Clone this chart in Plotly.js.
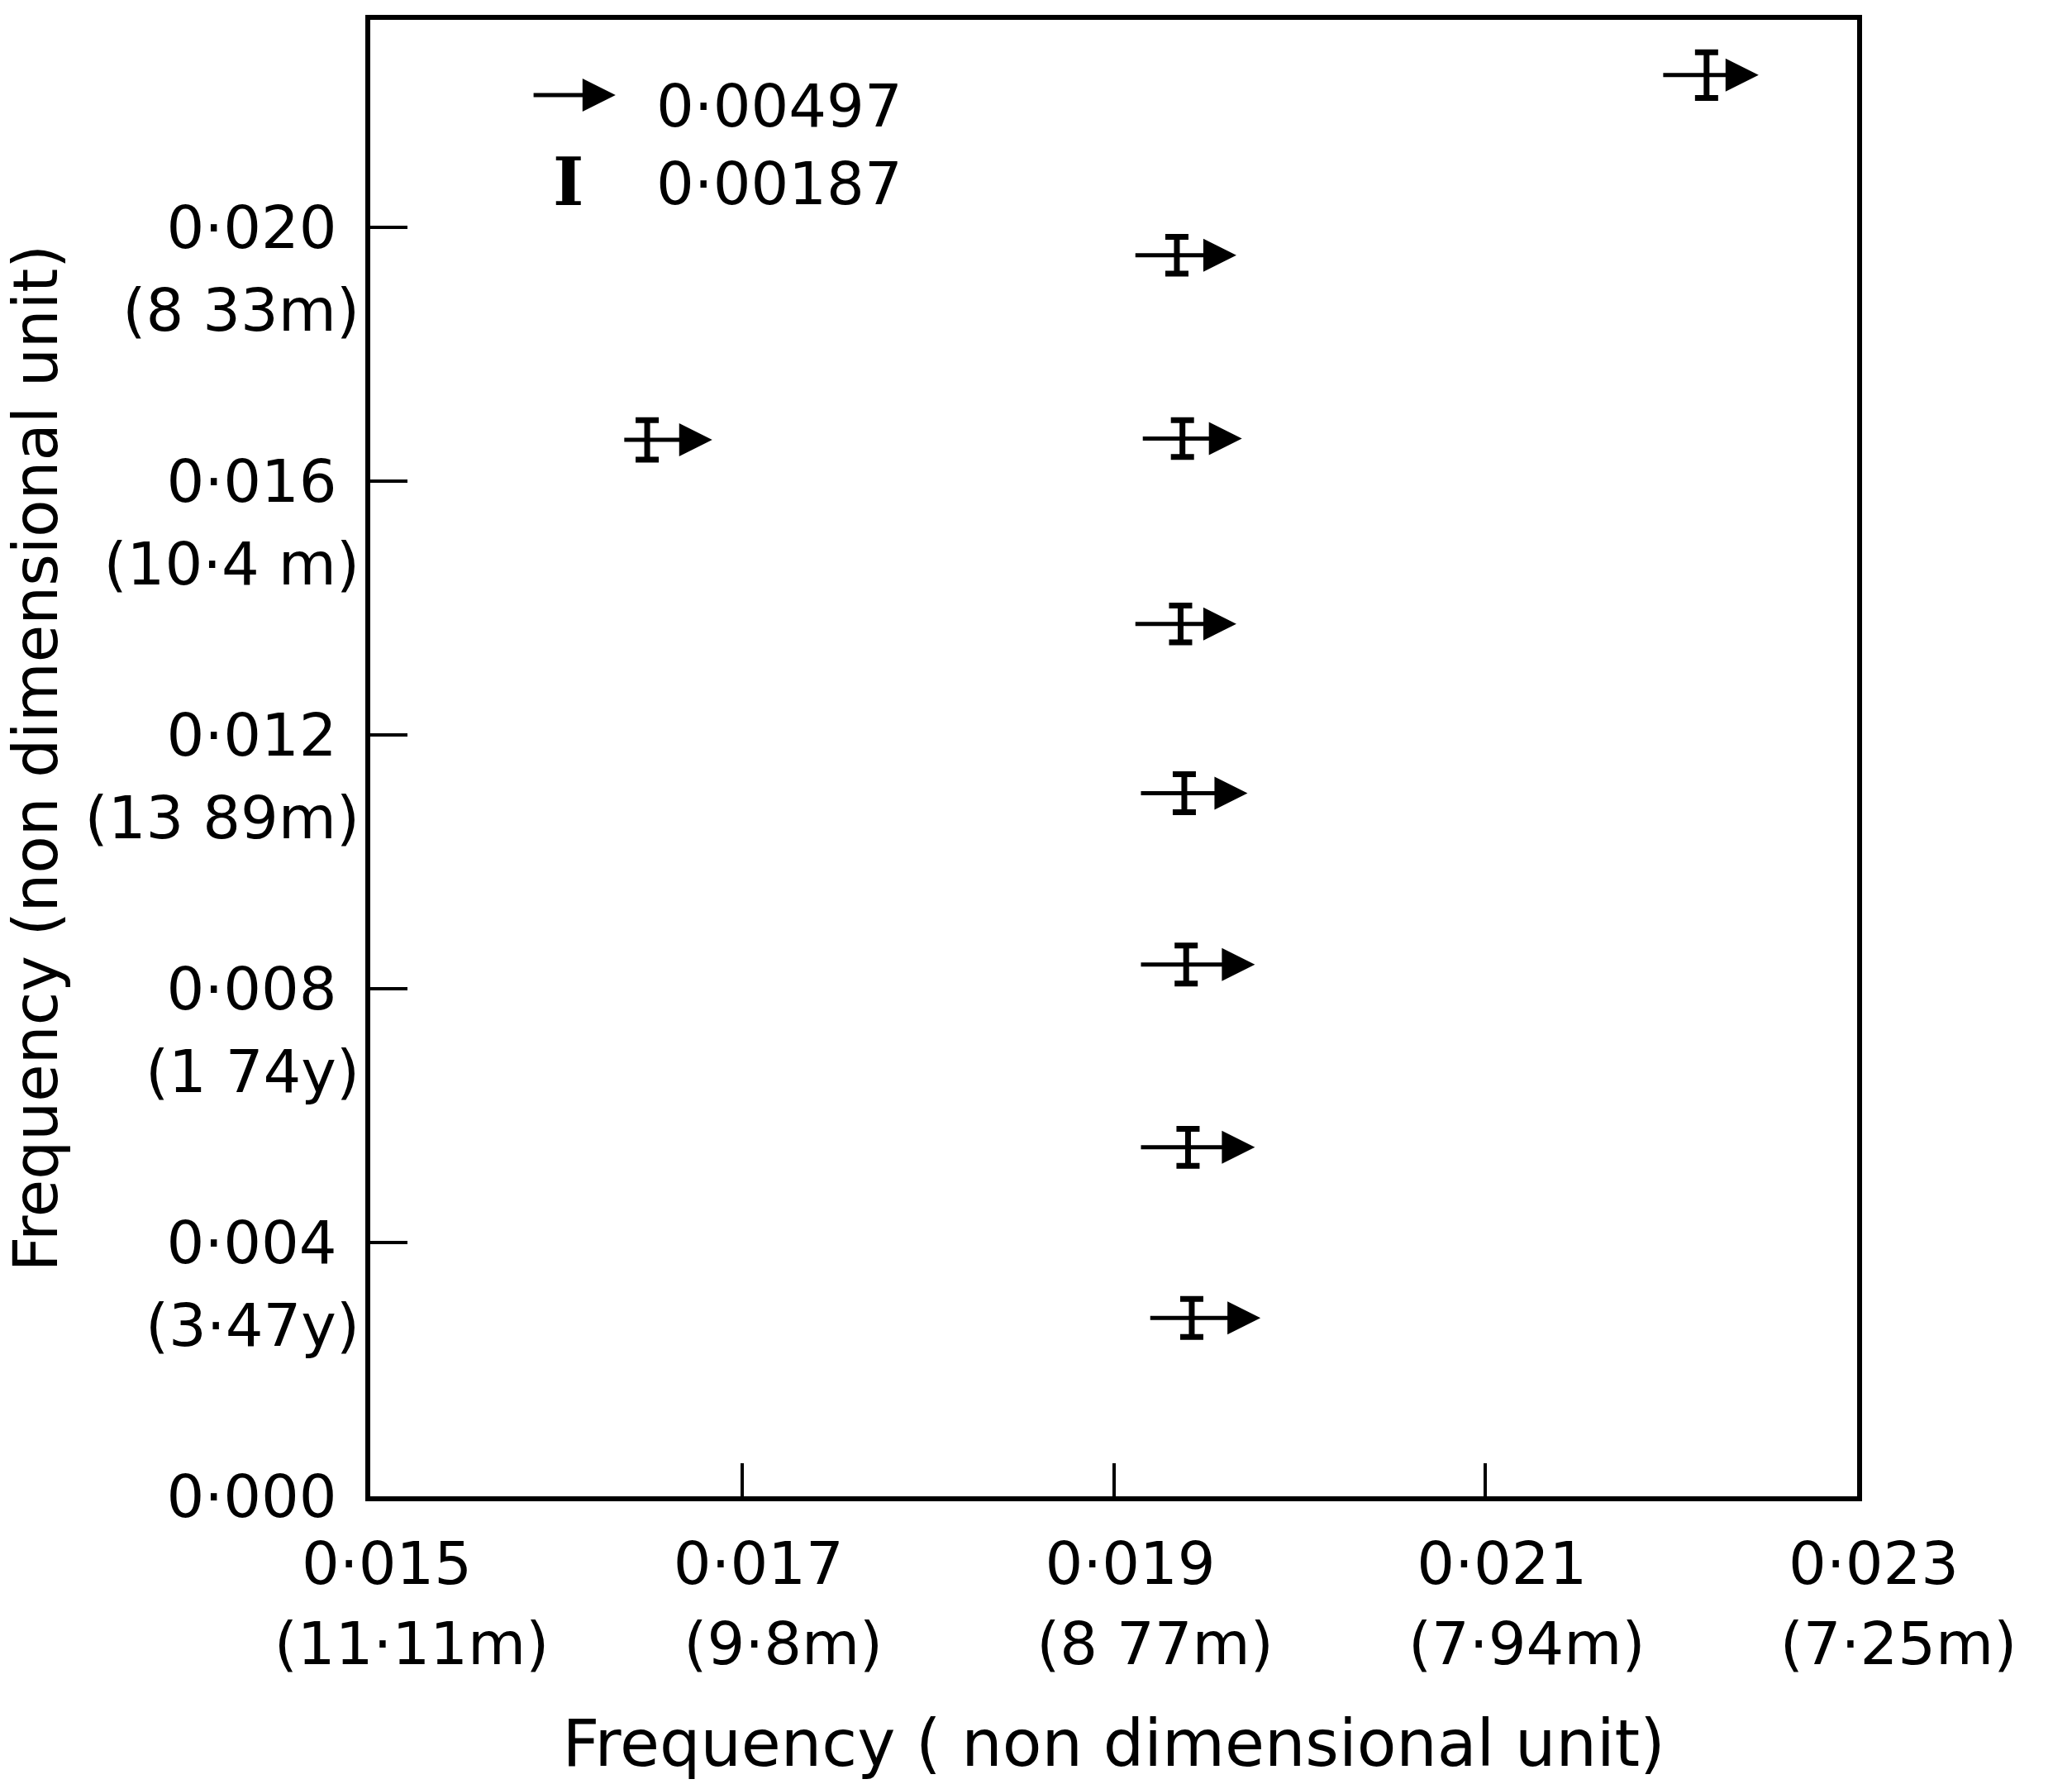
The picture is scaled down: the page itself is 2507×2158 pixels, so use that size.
<!DOCTYPE html>
<html>
<head>
<meta charset="utf-8">
<script src="https://cdn.plot.ly/plotly-3.0.1.min.js"></script>
<style>html,body{margin:0;padding:0;background:#fff;}#chart{width:2507px;height:2158px;}</style>
</head>
<body>
<div id="chart"></div>
<script>
// Points (non-dimensional frequency)
const xPoint   = [0.02219, 0.01934, 0.01649, 0.01937, 0.01936, 0.01938, 0.01939, 0.01940, 0.01942];
const yPoint   = [0.02240, 0.01956, 0.01665, 0.01667, 0.01375, 0.01108, 0.00838, 0.00550, 0.00281];
const yError   = [0.00036, 0.00029, 0.00031, 0.00029, 0.00029, 0.00030, 0.00030, 0.00029, 0.00030];
const arrowTail = [0.02195, 0.01911, 0.01636, 0.01915, 0.01911, 0.01914, 0.01914, 0.01914, 0.01919];
const arrowHead = [0.02247, 0.01966, 0.01684, 0.01969, 0.01966, 0.01972, 0.01976, 0.01976, 0.01979];

const xTickVals  = [0.015, 0.017, 0.019, 0.021, 0.023];
const xTickText  = ["0·015", "0·017", "0·019", "0·021", "0·023"];
const xTickUnits = ["(11·11m)", "(9·8m)", "(8 77m)", "(7·94m)", "(7·25m)"];
const yTickVals  = [0.000, 0.004, 0.008, 0.012, 0.016, 0.020];
const yTickText  = ["0·000", "0·004", "0·008", "0·012", "0·016", "0·020"];
const yTickUnits = ["", "(3·47y)", "(1 74y)", "(13 89m)", "(10·4 m)", "(8 33m)"];

const legendArrowLabel = "0·00497";
const legendBarLabel = "0·00187";
const xTitle = "Frequency ( non dimensional unit)";
const yTitle = "Frequency (non dimensional unit)";

const FONT = "DejaVu Sans";
const tickSize = 72;
const xRange = [0.015, 0.023];
const yRange = [0, 0.02327];

const trace = {
  type: "scatter",
  mode: "markers",
  x: xPoint,
  y: yPoint,
  marker: {size: 2, color: "#000"},
  error_y: {type: "data", array: yError, visible: true, color: "#000", thickness: 7, width: 14},
  hoverinfo: "skip",
  showlegend: false
};
// empty trace so the secondary (unit label) axes are drawn
const unitAxesTrace = {type: "scatter", mode: "markers", x: [], y: [], xaxis: "x2", yaxis: "y2", showlegend: false, hoverinfo: "skip"};

const annotations = xPoint.map((_, i) => ({
  x: arrowHead[i], y: yPoint[i], xref: "x", yref: "y",
  ax: arrowTail[i], ay: yPoint[i], axref: "x", ayref: "y",
  showarrow: true, arrowhead: 2, arrowsize: 1.6, arrowwidth: 5, arrowcolor: "#000",
  standoff: 0, startstandoff: 0, text: ""
}));

// legend key
annotations.push({
  x: 0.165, y: 0.949, xref: "paper", yref: "paper",
  ax: 0.109, ay: 0.949, axref: "paper", ayref: "paper",
  showarrow: true, arrowhead: 2, arrowsize: 1.6, arrowwidth: 5, arrowcolor: "#000", text: ""
});
annotations.push({
  x: 0.191, y: 0.942, xref: "paper", yref: "paper", xanchor: "left", yanchor: "middle",
  showarrow: false, text: legendArrowLabel, font: {family: FONT, size: 72, color: "#000"}
});
annotations.push({
  x: 0.133, y: 0.890, xref: "paper", yref: "paper", xanchor: "center", yanchor: "middle",
  showarrow: false, text: "<b>I</b>", font: {family: "DejaVu Serif", size: 80, color: "#000"}
});
annotations.push({
  x: 0.191, y: 0.889, xref: "paper", yref: "paper", xanchor: "left", yanchor: "middle",
  showarrow: false, text: legendBarLabel, font: {family: FONT, size: 72, color: "#000"}
});

const tickFont = {family: FONT, size: tickSize, color: "#000"};

const layout = {
  width: 2507, height: 2158,
  margin: {l: 448, r: 260, t: 24, b: 348},
  paper_bgcolor: "#fff", plot_bgcolor: "#fff",
  font: {family: FONT, color: "#000"},
  showlegend: false,
  xaxis: {
    range: xRange, tickmode: "array", tickvals: xTickVals, ticktext: xTickText,
    ticks: "inside", ticklen: 40, tickwidth: 4, tickcolor: "#000",
    showline: true, linewidth: 6, linecolor: "#000", mirror: true,
    showgrid: false, zeroline: false,
    ticklabelshift: 20, ticklabelstandoff: 14,
    tickfont: tickFont,
    automargin: false
  },
  xaxis2: {
    overlaying: "x", anchor: "y", side: "bottom",
    range: xRange, tickmode: "array", tickvals: xTickVals, ticktext: xTickUnits,
    ticks: "", showline: false, showgrid: false, zeroline: false,
    ticklabelshift: 50, ticklabelstandoff: 130,
    tickfont: tickFont,
    title: {text: xTitle, font: {family: FONT, size: 78, color: "#000"}, standoff: 52},
    automargin: false
  },
  yaxis: {
    range: yRange, tickmode: "array", tickvals: yTickVals, ticktext: yTickText,
    ticks: "inside", ticklen: 45, tickwidth: 4, tickcolor: "#000",
    showline: true, linewidth: 6, linecolor: "#000", mirror: true,
    showgrid: false, zeroline: false,
    ticklabelstandoff: 20,
    tickfont: tickFont,
    automargin: false
  },
  yaxis2: {
    overlaying: "y", anchor: "x", side: "left",
    range: yRange, tickmode: "array", tickvals: yTickVals, ticktext: yTickUnits,
    ticks: "", showline: false, showgrid: false, zeroline: false,
    ticklabelshift: 100, ticklabelstandoff: 12,
    tickfont: tickFont,
    title: {text: yTitle, font: {family: FONT, size: 74, color: "#000"}, standoff: 12},
    automargin: false
  },
  annotations: annotations
};

Plotly.newPlot("chart", [trace, unitAxesTrace], layout, {displayModeBar: false, staticPlot: true});
</script>
</body>
</html>
